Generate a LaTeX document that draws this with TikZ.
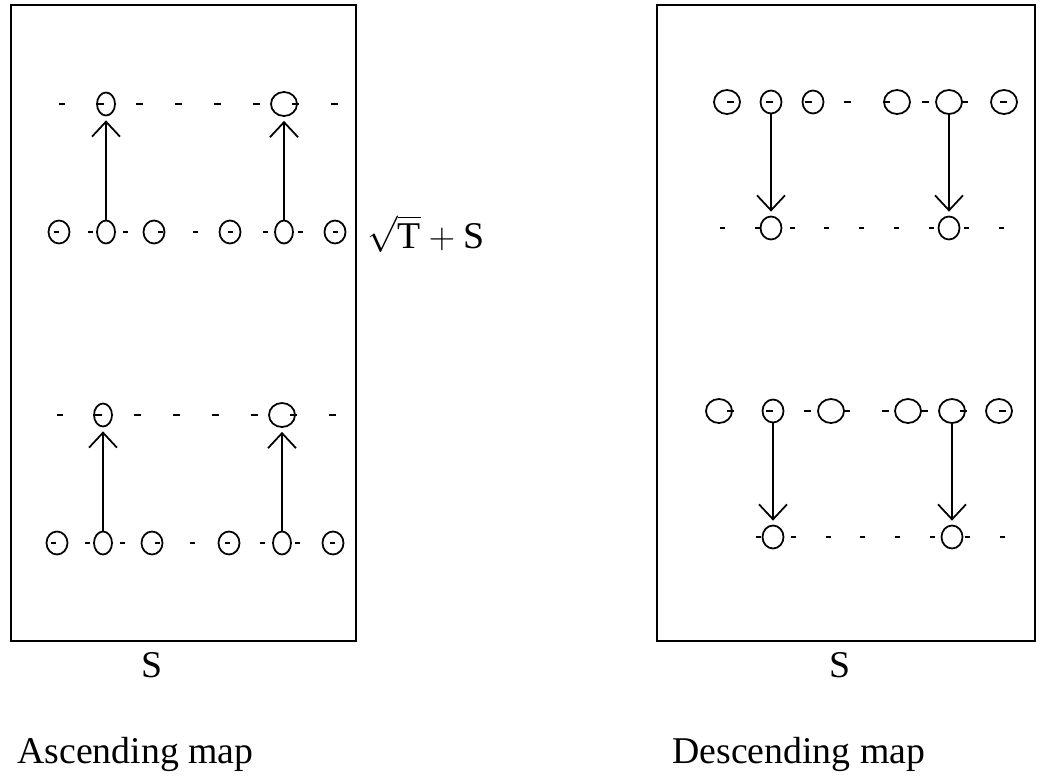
\documentclass[tikz,border=0pt]{standalone}
\usepackage{fontspec}
\setmainfont{Liberation Serif}
\usepackage{tikz}
\usetikzlibrary{positioning, arrows.meta, shapes.geometric}

\begin{document}
\begin{tikzpicture}[
		x=0.02cm, y=-0.02cm, % one unit is one pixel, y runs down
		>={Straight Barb[length=0.3cm, width=0.56cm]}, % Arrow style
		frame/.style={draw, line width=1.3pt, inner sep=0},
		site/.style={draw, ellipse, line width=1pt, inner sep=0, minimum width=0.42cm, minimum height=0.46cm},
		slim/.style={site, minimum width=0.36cm},
		wide/.style={site, minimum width=0.52cm, minimum height=0.48cm},
		longrow/.style={line width=1pt, dash pattern=on 0.14cm off 0.64cm},
		shortrow/.style={line width=1pt, dash pattern=on 0.10cm off 0.60cm},
		jump/.style={->, line width=1pt, shorten >=0.08cm},
		label/.style={inner sep=0, font=\fontsize{21.5}{26}\selectfont}
	]
	\useasboundingbox (0,0) rectangle (1040,781);

	% Frames
	\node[frame, minimum width=6.9cm, minimum height=12.72cm] (leftbox) at (183.5,323) {};
	\node[frame, minimum width=7.56cm, minimum height=12.72cm] (rightbox) at (846,323) {};

	% Dashed rows, ascending map
	\draw[longrow] (58.5,104) -- (356,104);
	\draw[shortrow] (53.5,232) -- (356,232);
	\draw[longrow] (56.5,415) -- (356,415);
	\draw[shortrow] (50.5,543) -- (356,543);

	% Dashed rows, descending map
	\draw[longrow] (727,102) -- (1035,102);
	\draw[shortrow] (719.5,228) -- (1035,228);
	\draw[longrow] (726.5,411) -- (1035,411);
	\draw[shortrow] (755.5,537) -- (1035,537);

	% Ascending map, upper pair of rows
	\node[slim] (aU1) at (106,104) {};
	\node[wide] (aU2) at (284,104) {};
	\node[site] (aL1) at (59,232) {};
	\node[slim] (aL2) at (106,232) {};
	\node[site] (aL3) at (154,232) {};
	\node[site] (aL4) at (230,232) {};
	\node[slim] (aL5) at (284,232) {};
	\node[site] (aL6) at (335,232) {};

	% Ascending map, lower pair of rows
	\node[slim] (bU1) at (103,415) {};
	\node[wide] (bU2) at (282,415) {};
	\node[site] (bL1) at (57,543) {};
	\node[slim] (bL2) at (103,543) {};
	\node[site] (bL3) at (152,543) {};
	\node[site] (bL4) at (229,543) {};
	\node[slim] (bL5) at (282,543) {};
	\node[site] (bL6) at (333,543) {};

	% Descending map, upper pair of rows
	\node[wide] (cU1) at (727,102) {};
	\node[site] (cU2) at (771,102) {};
	\node[site] (cU3) at (813,102) {};
	\node[wide] (cU4) at (897,102) {};
	\node[wide] (cU5) at (949,102) {};
	\node[wide] (cU6) at (1004,102) {};
	\node[site] (cL1) at (771,228) {};
	\node[site] (cL2) at (949,228) {};

	% Descending map, lower pair of rows
	\node[wide] (dU1) at (719,411) {};
	\node[site] (dU2) at (773,411) {};
	\node[wide] (dU3) at (831,411) {};
	\node[wide] (dU4) at (908,411) {};
	\node[wide] (dU5) at (952,411) {};
	\node[wide] (dU6) at (999,411) {};
	\node[site] (dL1) at (773,537) {};
	\node[site] (dL2) at (952,537) {};

	% Upward jumps
	\draw[jump] (aL2.north) -- (aU1.south);
	\draw[jump] (aL5.north) -- (aU2.south);
	\draw[jump] (bL2.north) -- (bU1.south);
	\draw[jump] (bL5.north) -- (bU2.south);

	% Downward jumps
	\draw[jump] (cU2.south) -- (cL1.north);
	\draw[jump] (cU5.south) -- (cL2.north);
	\draw[jump] (dU2.south) -- (dL1.north);
	\draw[jump] (dU5.south) -- (dL2.north);

	% Labels
	\node[label, anchor=west] (root) at (367,234) {$\sqrt{\mathrm{T}}+\mathrm{S}$};
	\node[label] (leftS) at (152,665) {S};
	\node[label] (rightS) at (840,665) {S};
	\node[label, anchor=base west] (asc) at (17,763) {Ascending map};
	\node[label, anchor=base west] (desc) at (672,763) {Descending map};

\end{tikzpicture}
\end{document}
